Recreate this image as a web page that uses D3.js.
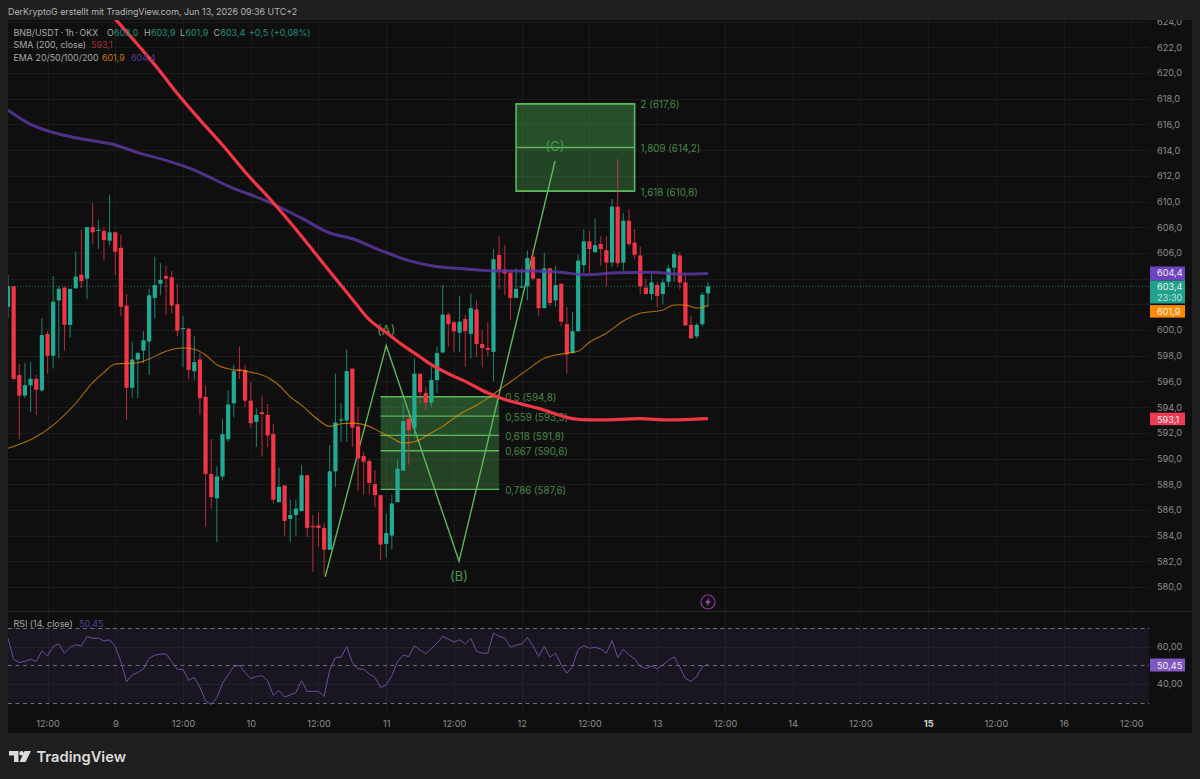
<!DOCTYPE html>
<html>
<head>
<meta charset="utf-8">
<title>BNB/USDT</title>
<script src="https://cdn.jsdelivr.net/npm/d3@7"></script>
<style>
  html, body { margin: 0; padding: 0; background: #1f1f1f; }
  svg { display: block; font-family: Inter, "Noto Sans", sans-serif; }
  .axis path, .axis line { display: none; }
  .axis text { fill: #8d8d8d; font-family: Inter, sans-serif; font-size: 9.2px; }
</style>
</head>
<body>
<script>
// candles, one per hour, first one is Jun 8 05:00
const opens = [601.8,603.4,596.5,594.9,595.7,596.2,595.3,599.7,598.0,602.3,603.3,600.4,603.25,604.3,604.0,608.0,607.75,607.7,606.95,607.6,606.4,601.9,595.5,597.7,598.4,599.1,602.5,603.6,604.2,604.1,602.0,600.1,600.1,596.8,597.7,594.8,588.8,586.9,588.6,591.5,594.3,596.95,596.9,594.5,592.85,593.6,593.4,591.9,586.6,587.9,585.3,585.6,585.9,588.7,584.75,584.8,584.6,582.9,589.0,592.95,592.95,597.0,592.5,590.2,589.8,588.0,587.15,583.35,584.0,586.6,589.05,593.1,592.35,596.6,595.1,594.35,596.1,598.25,601.2,600.6,599.8,600.85,599.7,601.6,598.9,598.6,598.3,605.85,604.7,604.45,602.5,603.3,603.4,605.7,604.0,601.7,604.8,602.3,603.6,600.45,598.2,599.9,605.05,606.9,606.05,606.7,606.2,605.25,609.6,605.25,608.5,606.8,605.8,603.3,602.8,603.5,602.8,603.75,604.85,605.8,603.7,600.4,599.5,600.45,602.85];
const highs = [604.3,603.4,597.35,597.45,597.5,596.5,600.9,599.9,604.2,603.4,603.4,603.2,606.1,607.8,608.0,609.9,608.6,608.0,610.5,607.65,607.4,602.8,599.1,598.3,599.9,603.2,605.7,605.2,605.0,604.6,603.6,601.1,600.2,599.5,598.2,595.7,591.5,589.4,593.1,595.3,597.3,598.7,597.3,595.9,593.9,594.9,594.25,592.7,589.3,587.9,586.8,586.8,589.5,588.7,585.6,585.8,585.0,591.05,596.6,594.3,598.5,597.0,594.0,590.5,590.0,589.1,587.15,585.7,587.2,589.9,594.3,593.2,597.8,596.6,595.6,597.15,598.7,603.5,601.35,600.7,602.65,601.2,602.85,602.3,600.0,600.6,606.3,607.3,606.6,604.5,604.8,604.8,606.2,606.3,604.0,606.0,604.8,605.0,603.6,601.8,601.4,605.9,607.85,607.7,608.7,607.3,607.3,610.2,613.3,609.1,609.4,607.85,606.5,604.0,604.4,603.7,604.0,605.05,606.1,606.05,604.45,601.1,600.55,602.95,603.75];
const lows = [600.9,596.1,591.5,594.7,593.6,593.4,595.2,596.6,597.0,597.8,598.4,599.4,603.2,603.25,602.4,606.7,606.3,605.4,606.6,604.3,601.1,593.0,594.7,594.7,597.4,596.5,600.9,602.7,601.2,601.3,599.5,597.1,596.2,596.1,593.4,584.7,586.1,583.5,588.3,591.3,593.2,596.2,594.0,592.4,590.9,590.15,590.9,586.5,586.6,584.0,583.5,584.0,585.9,583.9,581.2,583.1,580.9,582.9,587.8,591.3,591.3,590.9,587.5,587.2,587.2,586.2,582.1,582.3,582.9,586.6,589.05,589.5,591.6,594.2,593.8,594.0,595.1,598.25,598.7,598.3,598.3,597.15,597.8,597.9,597.1,597.95,596.0,603.2,602.7,600.8,602.5,603.3,602.3,603.85,601.1,601.7,601.85,601.8,600.3,596.6,598.2,599.9,604.45,604.4,606.05,605.0,603.4,604.9,604.9,604.6,606.5,605.5,602.8,602.75,602.3,601.75,602.0,603.4,603.75,603.15,600.35,599.35,599.35,600.25,601.8];
const closes = [603.4,596.2,594.9,595.7,596.2,595.35,599.6,598.0,602.2,603.2,600.4,603.2,604.15,603.8,608.0,607.6,607.8,607.0,607.6,606.1,601.8,595.5,597.7,598.2,599.2,602.7,603.5,603.9,604.0,601.9,599.95,600.15,596.9,597.5,594.7,588.8,587.0,588.6,591.9,594.2,596.8,596.85,594.5,592.75,593.4,593.45,591.8,586.8,587.8,585.15,585.6,586.1,588.7,584.6,584.65,584.6,582.9,589.0,592.8,593.05,596.8,592.4,590.0,589.75,588.1,587.15,583.3,584.2,586.5,589.2,592.9,592.2,596.6,595.15,594.35,596.1,598.2,601.2,600.45,599.9,600.65,599.9,601.7,598.9,598.6,598.45,605.5,604.7,604.4,602.5,603.2,603.4,605.6,604.0,601.7,604.8,602.1,603.5,600.65,598.1,599.9,605.4,606.9,606.3,606.6,606.3,605.25,609.6,605.2,608.5,606.7,605.85,603.4,602.8,603.7,602.65,603.7,604.8,605.9,603.7,600.35,599.35,600.4,602.75,603.4];
const rsi = [64.5,53.3,51.5,52.2,53.3,52.0,57.8,55.1,60.1,61.5,56.5,59.7,61.0,60.4,65.4,64.5,64.5,63.1,63.65,60.1,52.0,41.3,44.9,46.1,48.1,53.8,55.4,56.0,56.1,52.0,47.9,47.9,42.0,43.5,38.3,31.0,29.0,32.7,40.4,44.9,49.5,49.9,46.1,42.9,44.0,44.5,41.7,34.0,36.5,33.1,34.2,35.4,41.8,36.0,36.1,36.1,33.4,47.6,54.2,54.4,60.1,51.5,48.1,47.9,45.4,43.6,38.1,39.5,44.5,52.05,55.45,54.7,60.5,58.3,56.2,59.0,61.9,65.5,64.0,62.6,63.7,61.5,64.4,57.6,56.5,56.5,67.25,65.5,64.6,59.75,60.8,61.35,64.9,60.5,54.7,60.1,54.4,56.5,50.3,45.8,49.4,58.7,60.5,59.2,59.6,58.85,56.5,63.3,54.2,58.7,55.6,53.5,49.4,48.3,49.7,48.1,50.3,52.6,54.6,49.0,43.1,41.3,44.0,49.4,50.45];

// moving averages: candle number and price
const smaBars = [19,23,27,30,34,38,42,47,52,56,61,64,67,70,73,75,78,81,85,88,94,100,103,105,112,117,124];
const smaValues = [624.2,622.2,620.1,618.4,616.35,614.4,612.3,609.9,607.3,605.1,602.4,600.8,599.8,598.8,597.9,597.3,596.6,596,595.1,594.6,593.9,593.1,593,593,593.1,593,593.1];
const ema20Bars = [0,5,8,12,15,17,19,23,25,28,31,33,35,37,40,42,46,48,50,52,55,57,59,61,64,66,68,70,72,75,77,80,83,85,88,92,95,99,101,103,106,109,112,116,118,120,122,124];
const ema20Values = [590.8,591.7,592.6,594.3,595.9,596.7,597.35,597.45,597.75,598.35,598.6,598.5,598.05,597.3,596.9,596.8,596.3,595.7,594.8,594.15,593,592.5,592.7,592.75,592.5,592.05,591.6,591.2,591.3,592,592.5,593.45,594.15,594.7,595.65,596.9,597.8,598.2,598.35,599.05,599.75,600.7,601.3,601.55,601.95,601.95,601.7,601.9];
const ema200Bars = [0,4,9,14,19,23,28,33,39,46,52,57,61,66,71,75,81,86,92,98,102,108,114,119,124];
const ema200Values = [617.1,616,615.25,614.8,614.4,613.8,613.2,612.45,611.2,610,608.7,607.55,607.1,606.2,605.4,605,604.75,604.6,604.6,604.5,604.3,604.45,604.5,604.35,604.4];

// drawings
const waveBars = [56.2,67,79.9,96.9];
const waveValues = [580.8,598.8,582,613.15];
const waveNames = ['(A)','(B)','(C)'];
const upperFibRatios = ['1,618','1,809','2'];
const upperFibValues = [610.8,614.2,617.6];
const lowerFibRatios = ['0,5','0,559','0,618','0,667','0,786'];
const lowerFibValues = [594.8,593.3,591.8,590.6,587.6];

const priceTicks = d3.range(580, 625, 2);
// 602 and 604 sit behind the price tags
const priceLabels = priceTicks.filter(d => d !== 602 && d !== 604);
const rsiTicks = [40, 60];
const rsiBands = [70, 50, 30];

const W = 1200, H = 779;
const panel = {left: 8, top: 20, right: 1192, bottom: 733};
const plotRight = 1149, divider = 611, timeTop = 712;

const bar = i => d3.timeHour.offset(new Date(2026, 5, 8, 5), i);
const dayTicks = d3.range(0, 17).map(k => new Date(2026, 5, 8 + Math.floor(k / 2), k % 2 ? 24 : 12));

const x = d3.scaleTime().domain([bar(0), bar(124)]).range([8, 708]);
const xb = i => x(d3.timeMinute.offset(bar(0), i * 60));
const y = d3.scaleLinear().domain([580, 620]).range([587, 73]);
const yRsi = d3.scaleLinear().domain([30, 70]).range([702.7, 628]);
const comma = d3.formatLocale({decimal: ',', thousands: '.', grouping: [3], currency: ['', '']});
const fmt1 = comma.format('.1f'), fmt2 = comma.format('.2f');

const green = '#22ab94', red = '#f23645', orange = '#ff9800', purple = '#7e57c2';
const fibLine = '#5cb85c', fibText = '#458a45';

const svg = d3.select('body').append('svg').attr('width', W).attr('height', H);
const defs = svg.append('defs');
defs.append('clipPath').attr('id', 'panel').append('rect')
  .attr('x', panel.left).attr('y', panel.top)
  .attr('width', panel.right - panel.left).attr('height', panel.bottom - panel.top);
defs.append('clipPath').attr('id', 'plot').append('rect')
  .attr('x', panel.left).attr('y', panel.top)
  .attr('width', plotRight - panel.left).attr('height', divider - panel.top);

svg.append('rect').attr('width', W).attr('height', H).attr('fill', '#1f1f1f');
svg.append('rect').attr('x', panel.left).attr('y', panel.top)
  .attr('width', panel.right - panel.left).attr('height', panel.bottom - panel.top)
  .attr('fill', '#0f0f0f');

svg.append('text').attr('x', 8).attr('y', 14.5).attr('fill', '#b4b4b4').attr('font-size', 8.9)
  .text('DerKryptoG erstellt mit TradingView.com, Jun 13, 2026 09:36 UTC+2');

// grid
const grid = svg.append('g').attr('stroke', '#1b1b1b').attr('stroke-width', 1);
grid.selectAll('.v').data(dayTicks).enter().append('line')
  .attr('x1', d => Math.round(x(d)) + .5).attr('x2', d => Math.round(x(d)) + .5)
  .attr('y1', panel.top).attr('y2', timeTop);
grid.selectAll('.h').data(priceTicks).enter().append('line')
  .attr('x1', panel.left).attr('x2', plotRight)
  .attr('y1', d => Math.round(y(d)) + .5).attr('y2', d => Math.round(y(d)) + .5);

svg.append('line').attr('x1', panel.left).attr('x2', panel.right).attr('y1', divider + .5).attr('y2', divider + .5)
  .attr('stroke', '#2b2b2b');

// fib zones and the abc wave lie under the candles
const drawings = svg.append('g').attr('clip-path', 'url(#plot)');
function fibZone(from, to, ratios, values, outline) {
  const ext = d3.extent(values);
  const bands = d3.pairs(values.slice().sort(d3.ascending));
  const alpha = d3.scaleLinear().domain(ext).range([.27, .4]);
  drawings.selectAll(null).data(bands).enter().append('rect')
    .attr('x', xb(from)).attr('width', xb(to) - xb(from))
    .attr('y', d => y(d[1])).attr('height', d => y(d[0]) - y(d[1]))
    .attr('fill', '#4caf50').attr('fill-opacity', d => alpha(d[1]));
  drawings.selectAll(null).data(values).enter().append('line')
    .attr('x1', xb(from)).attr('x2', xb(to))
    .attr('y1', d => y(d)).attr('y2', d => y(d))
    .attr('stroke', fibLine).attr('stroke-width', 1.4);
  drawings.selectAll(null).data(values).enter().append('text')
    .attr('x', xb(to) + 6).attr('y', d => y(d) + 4.5)
    .attr('fill', fibText).attr('font-size', 9.8)
    .text((d, i) => `${ratios[i]} (${fmt1(d)})`);
  // outline of the zone
  if (outline) {
    drawings.append('rect')
      .attr('x', xb(from)).attr('width', xb(to) - xb(from))
      .attr('y', y(ext[1])).attr('height', y(ext[0]) - y(ext[1]))
      .attr('fill', 'none').attr('stroke', fibLine).attr('stroke-width', 1.6);
  }
}
fibZone(90, 111, upperFibRatios, upperFibValues, true);
fibZone(66, 87, lowerFibRatios, lowerFibValues, false);

drawings.append('path')
  .attr('d', d3.line().x((d, i) => xb(waveBars[i])).y(d => y(d))(waveValues))
  .attr('fill', 'none').attr('stroke', fibLine).attr('stroke-width', 1.4);
drawings.selectAll('.wave').data(waveNames).enter().append('text')
  .attr('x', (d, i) => xb(waveBars[i + 1]))
  .attr('y', (d, i) => y(waveValues[i + 1]) + (i === 1 ? 20 : -10))
  .attr('text-anchor', 'middle').attr('fill', '#4a9a4a').attr('font-size', 13)
  .text(d => d);

// last price
svg.append('line').attr('x1', panel.left).attr('x2', plotRight)
  .attr('y1', y(603.4)).attr('y2', y(603.4))
  .attr('stroke', green).attr('stroke-opacity', .7).attr('stroke-dasharray', '1 2');

// candles
const candles = svg.append('g').attr('clip-path', 'url(#plot)');
const bars = candles.selectAll('g').data(opens.map((d, i) => i)).enter().append('g');
bars.append('line')
  .attr('x1', i => xb(i)).attr('x2', i => xb(i))
  .attr('y1', i => y(highs[i])).attr('y2', i => y(lows[i]))
  .attr('stroke', i => closes[i] >= opens[i] ? green : red).attr('stroke-opacity', .75);
bars.append('rect')
  .attr('x', i => xb(i) - 2.1).attr('width', 4.2)
  .attr('y', i => y(Math.max(opens[i], closes[i])))
  .attr('height', i => Math.max(1, Math.abs(y(opens[i]) - y(closes[i]))))
  .attr('fill', i => closes[i] >= opens[i] ? green : red);

// moving averages
const maLine = (bars, vals, color, width, op) => {
  svg.append('path').attr('clip-path', 'url(#plot)')
    .attr('d', d3.line().curve(d3.curveMonotoneX).x((d, i) => xb(bars[i])).y(d => y(d))(vals))
    .attr('fill', 'none').attr('stroke', color).attr('stroke-width', width).attr('stroke-opacity', op);
};
maLine(ema20Bars, ema20Values, orange, 1.1, .68);
maLine(ema200Bars, ema200Values, '#5e3aa6', 3, .8);
maLine(smaBars, smaValues, red, 3.2, 1);

// rsi pane
svg.append('rect').attr('x', panel.left).attr('width', plotRight - panel.left)
  .attr('y', yRsi(70)).attr('height', yRsi(30) - yRsi(70))
  .attr('fill', purple).attr('fill-opacity', .1);
svg.selectAll('.rg').data(rsiTicks).enter().append('line')
  .attr('x1', panel.left).attr('x2', plotRight)
  .attr('y1', d => Math.round(yRsi(d)) + .5).attr('y2', d => Math.round(yRsi(d)) + .5)
  .attr('stroke', '#23212a');
svg.selectAll('.band').data(rsiBands).enter().append('line')
  .attr('x1', panel.left).attr('x2', plotRight)
  .attr('y1', d => Math.round(yRsi(d)) + .5).attr('y2', d => Math.round(yRsi(d)) + .5)
  .attr('stroke', '#6e6c75').attr('stroke-dasharray', '4 3.5');
svg.append('path')
  .attr('d', d3.line().x((d, i) => xb(i)).y(d => yRsi(d))(rsi))
  .attr('fill', 'none').attr('stroke', '#66509c').attr('stroke-width', 1);

// axes
const axes = svg.append('g').attr('clip-path', 'url(#panel)');
axes.append('g').attr('class', 'axis').attr('transform', `translate(${plotRight + 8},0)`)
  .call(d3.axisRight(y).tickValues(priceLabels).tickSize(0).tickPadding(0).tickFormat(fmt1));
axes.append('g').attr('class', 'axis').attr('transform', `translate(${plotRight + 8},0)`)
  .call(d3.axisRight(yRsi).tickValues(rsiTicks).tickSize(0).tickPadding(0).tickFormat(fmt2));
const xAxis = axes.append('g').attr('class', 'axis').attr('transform', `translate(0,${timeTop + 8.5})`)
  .call(d3.axisBottom(x).tickValues(dayTicks).tickSize(0).tickPadding(0)
    .tickFormat(d => d.getHours() === 12 ? '12:00' : String(d.getDate())));
xAxis.selectAll('text').attr('dy', '.71em')
  .attr('font-weight', d => d.getDate() === 15 && d.getHours() === 0 ? 700 : 400)
  .style('fill', d => d.getDate() === 15 && d.getHours() === 0 ? '#d0d0d0' : null);

// price tags on the right
function tag(top, height, color, lines) {
  svg.append('rect').attr('x', plotRight + 1).attr('y', top).attr('width', 35).attr('height', height).attr('fill', color);
  lines.forEach((t, i) => {
    svg.append('text').attr('x', plotRight + 8).attr('y', top + 10 + i * 11)
      .attr('fill', i ? '#bfe3dc' : '#f2f2f2').attr('font-size', 9.2).text(t);
  });
}
tag(y(604.4) - 7, 14, '#6f42c1', [fmt1(604.4)]);
tag(y(604.4) + 7, 23, '#1fa18c', [fmt1(603.4), '23:30']);
tag(y(601.9) - 0.5, 12.5, '#ff8a00', [fmt1(601.9)]);
tag(y(593.1) - 6, 12.5, '#ee3a53', [fmt1(593.1)]);
tag(yRsi(50.45) - 6, 13, '#7e57c2', [fmt2(50.45)]);

// legend
const legend = svg.append('g').attr('font-size', 8.9);
const legendText = (px, py, t, color) => legend.append('text').attr('x', px).attr('y', py).attr('fill', color).text(t);
const legendGrey = '#a8a8a8', legendGreen = '#1f8f7e';
legendText(13.5, 35.5, 'BNB/USDT · 1h · OKX', legendGrey).attr('word-spacing', -.9);
legendText(107, 35.5, 'O', legendGrey); legendText(114, 35.5, fmt1(603), legendGreen);
legendText(144, 35.5, 'H', legendGrey); legendText(151, 35.5, fmt1(603.9), legendGreen);
legendText(180, 35.5, 'L', legendGrey); legendText(185.5, 35.5, fmt1(601.9), legendGreen);
legendText(213.5, 35.5, 'C', legendGrey); legendText(220.5, 35.5, fmt1(603.4), legendGreen);
legendText(249, 35.5, '+0,5 (+0,08%)', legendGreen);
legendText(13.5, 48, 'SMA (200, close)', legendGrey);
legendText(91, 48, fmt1(593.1), '#a82c38');
legendText(13.5, 60.5, 'EMA 20/50/100/200', legendGrey);
legendText(102, 60.5, fmt1(601.9), '#c27a12');
legendText(131, 60.5, fmt1(604.4), '#54389a');
legendText(13.5, 627, 'RSI (14, close)', legendGrey);
legendText(79, 627, fmt2(50.45), '#54409a');

// lightning badge
const badge = svg.append('g').attr('transform', 'translate(708,602)');
badge.append('circle').attr('r', 7).attr('fill', 'none').attr('stroke', '#8a3a9e').attr('stroke-width', 1.2);
badge.append('path').attr('d', 'M1.5,-4.5 L-3,1 L-.5,1 L-1.5,4.5 L3,-1 L.5,-1 Z').attr('fill', '#a04ab4');

// logo
const logo = svg.append('g').attr('fill', '#dcdcdc');
logo.append('path').attr('d', 'M9,751 H18.5 V762 H14 V755.5 H9 Z');
logo.append('circle').attr('cx', 21.5).attr('cy', 753.2).attr('r', 2.2);
logo.append('path').attr('d', 'M24.5,751 H31 L25.5,762 H19.5 Z');
logo.append('text').attr('x', 36.5).attr('y', 762).attr('font-size', 14.7).attr('font-weight', 600)
  .text('TradingView');
</script>
</body>
</html>
